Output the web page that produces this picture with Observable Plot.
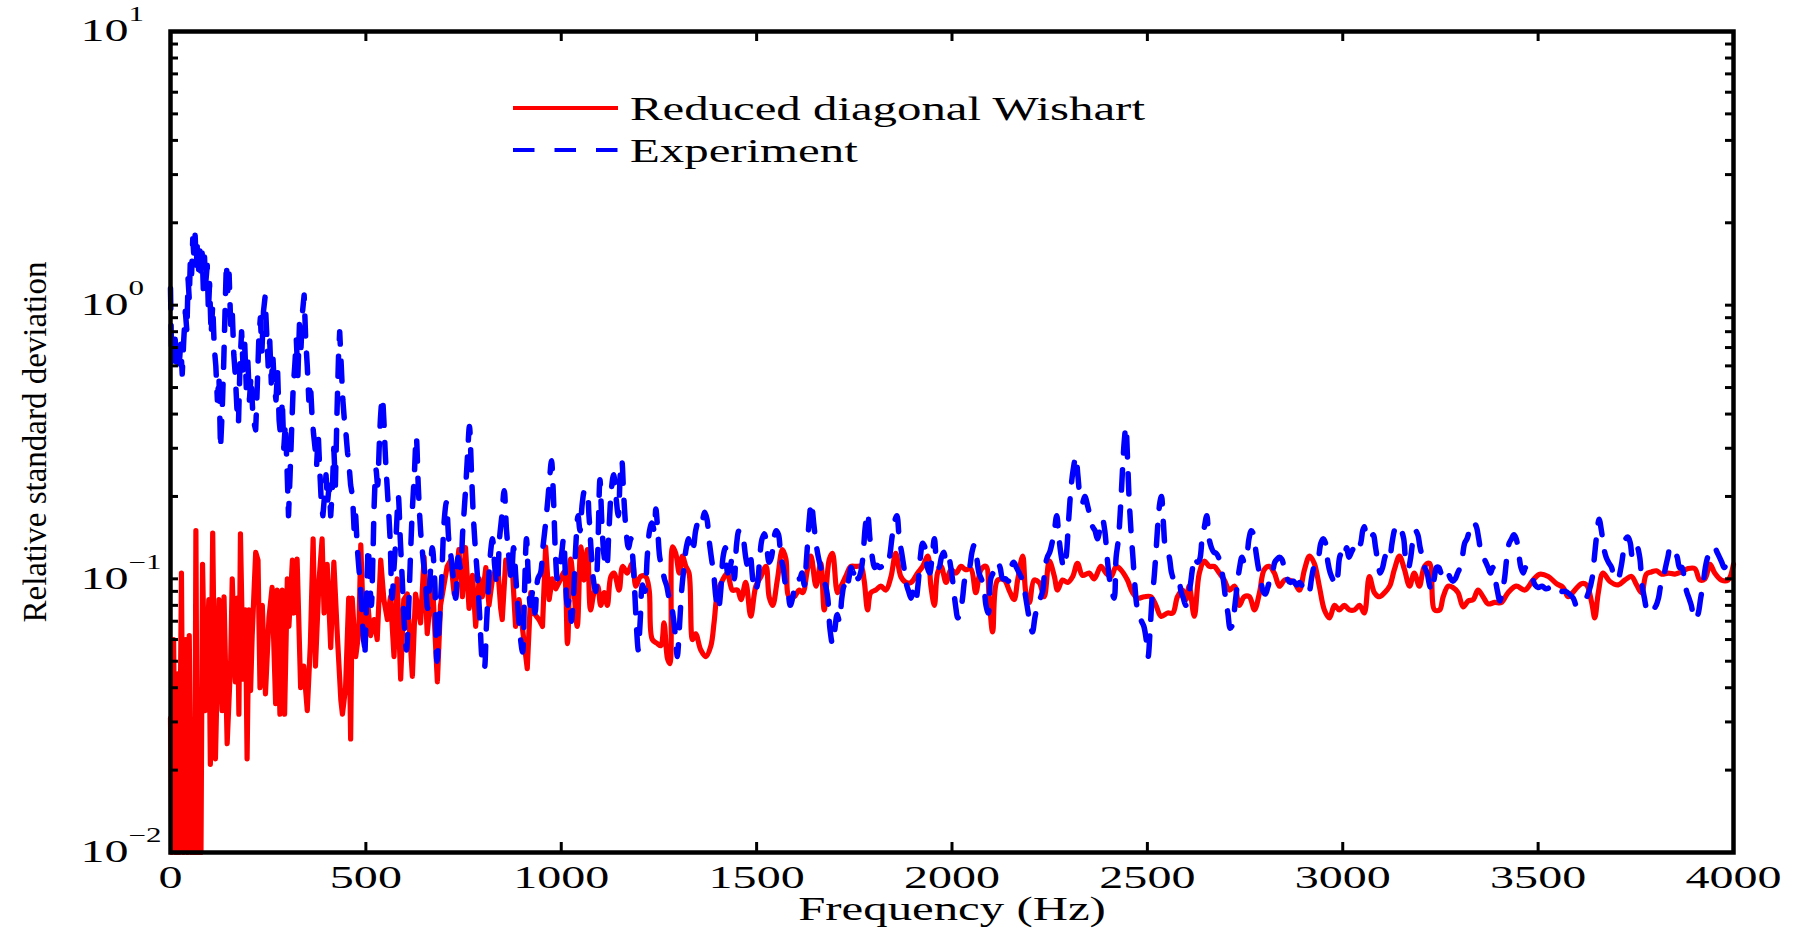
<!DOCTYPE html>
<html><head><meta charset="utf-8">
<script src="https://cdn.jsdelivr.net/npm/d3@7"></script>
<script src="https://cdn.jsdelivr.net/npm/@observablehq/plot@0.6"></script>
<style>
html,body{margin:0;padding:0;background:#fff;}
#wrap{position:relative;width:1801px;height:928px;overflow:hidden;background:#fff;}
#wrap svg{position:absolute;left:0;top:0;}
</style></head><body><div id="wrap"></div>
<script>
// ---------- data (frequency Hz, relative standard deviation) ----------
const wishartSeries = [[0,0.031],[3,0.005],[8,0.06],[13,0.005],[18,0.045],[22,0.006],[28,0.105],[33,0.005],[38,0.06],[43,0.005],[48,0.062],[53,0.005],[58,0.03],[62,0.005],[65,0.15],[69,0.005],[74,0.02],[78,0.005],[82,0.113],[89,0.033],[98,0.084],[102,0.021],[108,0.147],[115,0.022],[124,0.084],[132,0.033],[137,0.086],[145,0.025],[154,0.05],[158,0.1],[166,0.042],[171,0.085],[175,0.032],[179,0.146],[186,0.043],[192,0.077],[196,0.022],[201,0.077],[205,0.039],[209,0.062],[218,0.125],[224,0.117],[229,0.04],[235,0.08],[243,0.038],[252,0.072],[260,0.093],[269,0.035],[273,0.091],[280,0.032],[286,0.091],[292,0.032],[299,0.1],[303,0.067],[312,0.117],[316,0.075],[324,0.118],[333,0.04],[341,0.048],[350,0.033],[358,0.058],[365,0.14],[371,0.048],[380,0.098],[388,0.14],[393,0.075],[401,0.113],[410,0.056],[418,0.115],[427,0.062],[436,0.036],[440,0.032],[448,0.04],[456,0.085],[461,0.026],[465,0.085],[474,0.052],[482,0.064],[487,0.133],[495,0.06],[504,0.084],[512,0.062],[521,0.071],[529,0.06],[538,0.117],[546,0.084],[555,0.071],[563,0.086],[572,0.052],[580,0.1],[589,0.043],[597,0.084],[606,0.088],[619,0.044],[627,0.088],[640,0.069],[649,0.12],[657,0.063],[670,0.1],[683,0.042],[691,0.08],[708,0.111],[717,0.117],[726,0.088],[738,0.128],[747,0.086],[755,0.13],[764,0.078],[773,0.103],[781,0.067],[790,0.1],[798,0.086],[807,0.11],[815,0.08],[824,0.1],[837,0.113],[845,0.078],[849,0.071],[858,0.117],[875,0.108],[883,0.067],[892,0.084],[913,0.047],[922,0.089],[930,0.075],[943,0.071],[952,0.067],[960,0.131],[969,0.084],[977,0.1],[986,0.092],[999,0.1],[1007,0.106],[1016,0.058],[1024,0.118],[1033,0.089],[1041,0.067],[1050,0.131],[1058,0.099],[1067,0.128],[1075,0.077],[1084,0.089],[1093,0.094],[1101,0.08],[1110,0.089],[1118,0.08],[1127,0.102],[1135,0.105],[1148,0.091],[1157,0.111],[1169,0.105],[1182,0.114],[1191,0.094],[1203,0.102],[1216,0.102],[1225,0.091],[1233,0.06],[1246,0.058],[1255,0.057],[1263,0.069],[1272,0.051],[1278,0.049],[1285,0.131],[1293,0.124],[1302,0.105],[1310,0.121],[1319,0.111],[1327,0.105],[1336,0.06],[1344,0.063],[1357,0.055],[1370,0.052],[1383,0.057],[1391,0.069],[1400,0.089],[1413,0.099],[1425,0.105],[1438,0.091],[1451,0.091],[1460,0.084],[1472,0.097],[1485,0.073],[1498,0.094],[1511,0.102],[1524,0.111],[1532,0.086],[1541,0.08],[1553,0.099],[1566,0.128],[1575,0.118],[1583,0.086],[1596,0.086],[1609,0.091],[1618,0.089],[1630,0.108],[1639,0.121],[1652,0.094],[1664,0.114],[1673,0.077],[1686,0.118],[1694,0.124],[1707,0.089],[1716,0.094],[1728,0.102],[1741,0.111],[1754,0.111],[1767,0.111],[1775,0.099],[1784,0.077],[1792,0.089],[1805,0.091],[1818,0.094],[1831,0.091],[1844,0.102],[1856,0.124],[1869,0.102],[1882,0.097],[1895,0.097],[1912,0.105],[1925,0.111],[1938,0.121],[1946,0.094],[1955,0.08],[1963,0.105],[1972,0.111],[1985,0.097],[1997,0.108],[2010,0.105],[2023,0.111],[2035,0.108],[2048,0.109],[2061,0.089],[2074,0.108],[2087,0.111],[2095,0.086],[2104,0.064],[2117,0.099],[2134,0.099],[2146,0.091],[2159,0.084],[2168,0.099],[2181,0.121],[2189,0.089],[2198,0.082],[2210,0.099],[2223,0.097],[2236,0.086],[2249,0.116],[2262,0.102],[2270,0.091],[2283,0.099],[2296,0.097],[2309,0.102],[2321,0.114],[2334,0.103],[2351,0.105],[2364,0.1],[2381,0.111],[2394,0.105],[2407,0.102],[2420,0.111],[2432,0.108],[2449,0.099],[2462,0.089],[2475,0.085],[2492,0.086],[2509,0.086],[2522,0.08],[2535,0.073],[2552,0.075],[2565,0.075],[2577,0.086],[2590,0.091],[2599,0.084],[2607,0.094],[2620,0.073],[2633,0.105],[2646,0.116],[2659,0.111],[2671,0.111],[2684,0.105],[2697,0.099],[2710,0.091],[2723,0.094],[2735,0.08],[2748,0.086],[2761,0.086],[2774,0.077],[2787,0.089],[2799,0.108],[2812,0.111],[2825,0.105],[2838,0.094],[2851,0.099],[2863,0.099],[2876,0.097],[2889,0.091],[2902,0.108],[2915,0.121],[2927,0.114],[2940,0.094],[2953,0.077],[2966,0.072],[2979,0.08],[2991,0.077],[3004,0.08],[3017,0.077],[3030,0.077],[3043,0.08],[3055,0.075],[3068,0.102],[3081,0.089],[3094,0.086],[3107,0.089],[3120,0.094],[3132,0.108],[3145,0.121],[3158,0.108],[3171,0.094],[3183,0.105],[3196,0.094],[3209,0.111],[3222,0.114],[3235,0.077],[3248,0.077],[3257,0.086],[3270,0.094],[3282,0.093],[3295,0.089],[3308,0.079],[3321,0.083],[3334,0.084],[3346,0.091],[3359,0.086],[3372,0.081],[3389,0.082],[3406,0.082],[3423,0.089],[3444,0.094],[3466,0.091],[3487,0.099],[3504,0.104],[3526,0.102],[3547,0.096],[3564,0.093],[3577,0.086],[3594,0.091],[3611,0.096],[3624,0.095],[3637,0.082],[3645,0.072],[3654,0.089],[3666,0.105],[3683,0.098],[3705,0.095],[3722,0.099],[3739,0.102],[3752,0.095],[3765,0.089],[3777,0.104],[3790,0.106],[3803,0.107],[3816,0.104],[3833,0.105],[3850,0.104],[3867,0.106],[3884,0.109],[3901,0.109],[3914,0.099],[3927,0.1],[3940,0.113],[3952,0.105],[3969,0.099],[3986,0.099],[4000,0.113]];

const experimentSeries = [[0,1.15],[3,0.62],[6,0.8],[9,0.6],[12,0.75],[15,0.62],[19,0.7],[22,0.6],[26,0.72],[30,0.56],[34,0.75],[38,0.95],[42,0.8],[45,1.25],[48,1.05],[51,1.5],[54,1.3],[57,1.75],[60,1.5],[63,1.8],[66,1.4],[69,1.7],[72,1.35],[75,1.6],[78,1.25],[81,1.55],[84,1.15],[87,1.5],[90,1.2],[94,1.4],[97,0.95],[100,1.2],[104,0.78],[108,1.0],[112,0.7],[116,0.6],[120,0.45],[124,0.55],[128,0.3],[132,0.4],[136,0.6],[140,1.0],[143,1.42],[147,1.1],[150,1.3],[154,0.85],[158,0.95],[162,0.66],[166,0.55],[170,0.42],[174,0.37],[178,0.62],[182,0.8],[186,0.58],[190,0.72],[194,0.5],[198,0.62],[202,0.45],[206,0.55],[210,0.42],[214,0.37],[218,0.35],[222,0.5],[226,0.75],[230,0.9],[234,0.68],[238,0.95],[242,1.07],[246,0.8],[250,0.6],[254,0.74],[258,0.52],[262,0.65],[266,0.5],[270,0.45],[274,0.58],[278,0.38],[282,0.33],[286,0.45],[290,0.3],[294,0.37],[298,0.26],[302,0.17],[306,0.24],[310,0.35],[314,0.5],[318,0.6],[322,0.75],[326,0.55],[330,0.85],[334,0.7],[338,0.95],[342,1.09],[346,0.75],[350,0.6],[354,0.45],[358,0.52],[362,0.4],[366,0.34],[370,0.3],[374,0.26],[378,0.34],[382,0.25],[386,0.19],[390,0.17],[394,0.2],[398,0.24],[402,0.19],[406,0.22],[410,0.17],[414,0.21],[418,0.3],[422,0.22],[426,0.4],[430,0.65],[433,0.8],[437,0.6],[441,0.45],[445,0.38],[449,0.34],[453,0.29],[457,0.26],[461,0.22],[466,0.2],[470,0.15],[474,0.17],[478,0.13],[482,0.11],[486,0.095],[490,0.075],[494,0.06],[498,0.055],[502,0.085],[506,0.13],[510,0.1],[514,0.08],[518,0.12],[522,0.2],[526,0.25],[530,0.22],[534,0.3],[538,0.4],[542,0.46],[546,0.38],[550,0.28],[556,0.2],[562,0.14],[567,0.085],[572,0.11],[578,0.15],[583,0.2],[588,0.14],[593,0.1],[598,0.07],[604,0.055],[609,0.075],[614,0.12],[619,0.18],[624,0.24],[629,0.33],[634,0.22],[640,0.15],[646,0.12],[652,0.1],[658,0.078],[664,0.1],[670,0.13],[676,0.1],[682,0.05],[688,0.07],[694,0.1],[700,0.16],[706,0.19],[712,0.14],[718,0.12],[724,0.1],[730,0.085],[736,0.12],[742,0.11],[748,0.15],[754,0.2],[760,0.28],[765,0.36],[770,0.25],[775,0.17],[780,0.13],[786,0.1],[792,0.07],[798,0.05],[803,0.047],[808,0.065],[813,0.09],[818,0.12],[824,0.14],[830,0.11],[836,0.095],[842,0.14],[848,0.17],[854,0.21],[860,0.15],[866,0.12],[872,0.1],[878,0.13],[884,0.1],[890,0.075],[896,0.06],[901,0.054],[906,0.09],[911,0.14],[916,0.1],[921,0.08],[927,0.09],[933,0.075],[940,0.1],[947,0.105],[953,0.13],[959,0.155],[965,0.19],[970,0.23],[975,0.27],[980,0.2],[985,0.125],[990,0.1],[995,0.11],[1000,0.12],[1006,0.14],[1011,0.1],[1016,0.08],[1021,0.085],[1026,0.07],[1032,0.09],[1037,0.13],[1043,0.17],[1048,0.15],[1054,0.19],[1060,0.21],[1065,0.21],[1071,0.17],[1076,0.13],[1082,0.1],[1088,0.09],[1093,0.12],[1099,0.23],[1104,0.16],[1110,0.12],[1116,0.11],[1122,0.15],[1128,0.21],[1134,0.24],[1140,0.2],[1146,0.17],[1151,0.24],[1155,0.27],[1160,0.2],[1166,0.15],[1172,0.13],[1178,0.14],[1183,0.12],[1188,0.09],[1193,0.065],[1197,0.055],[1202,0.07],[1208,0.095],[1214,0.09],[1220,0.12],[1226,0.15],[1232,0.16],[1238,0.15],[1242,0.18],[1247,0.15],[1252,0.12],[1258,0.11],[1264,0.1],[1270,0.094],[1276,0.085],[1282,0.08],[1288,0.07],[1293,0.06],[1297,0.052],[1302,0.065],[1308,0.09],[1314,0.11],[1320,0.13],[1326,0.14],[1332,0.125],[1338,0.13],[1344,0.15],[1350,0.16],[1356,0.155],[1362,0.165],[1367,0.175],[1373,0.165],[1378,0.14],[1384,0.12],[1390,0.105],[1396,0.085],[1402,0.077],[1408,0.09],[1414,0.12],[1420,0.13],[1426,0.105],[1432,0.11],[1438,0.12],[1443,0.1],[1449,0.135],[1455,0.15],[1460,0.15],[1466,0.14],[1472,0.12],[1478,0.11],[1484,0.12],[1490,0.1],[1496,0.09],[1502,0.095],[1508,0.12],[1514,0.14],[1520,0.146],[1526,0.13],[1532,0.115],[1538,0.12],[1544,0.14],[1550,0.15],[1556,0.145],[1562,0.12],[1568,0.11],[1574,0.095],[1580,0.09],[1586,0.08],[1592,0.085],[1598,0.095],[1604,0.1],[1610,0.1],[1616,0.105],[1622,0.095],[1628,0.12],[1634,0.16],[1640,0.19],[1646,0.16],[1652,0.135],[1658,0.12],[1664,0.11],[1670,0.1],[1676,0.095],[1682,0.085],[1688,0.065],[1694,0.058],[1700,0.065],[1706,0.074],[1712,0.07],[1718,0.085],[1724,0.094],[1730,0.09],[1736,0.1],[1742,0.11],[1748,0.105],[1754,0.11],[1760,0.1],[1766,0.105],[1772,0.12],[1778,0.155],[1784,0.174],[1790,0.14],[1796,0.12],[1802,0.11],[1808,0.112],[1815,0.11],[1822,0.111],[1828,0.11],[1834,0.112],[1840,0.12],[1846,0.14],[1852,0.16],[1859,0.17],[1865,0.14],[1871,0.125],[1877,0.11],[1883,0.096],[1889,0.09],[1895,0.085],[1901,0.09],[1907,0.083],[1913,0.095],[1919,0.12],[1925,0.135],[1931,0.13],[1937,0.11],[1943,0.105],[1949,0.12],[1955,0.14],[1961,0.115],[1967,0.11],[1973,0.12],[1979,0.125],[1985,0.115],[1991,0.12],[1997,0.11],[2003,0.095],[2009,0.08],[2015,0.072],[2021,0.075],[2027,0.085],[2033,0.1],[2039,0.105],[2045,0.11],[2051,0.125],[2057,0.133],[2063,0.12],[2069,0.105],[2075,0.1],[2081,0.095],[2087,0.08],[2093,0.075],[2099,0.1],[2105,0.105],[2111,0.11],[2117,0.115],[2123,0.11],[2130,0.1],[2137,0.1],[2144,0.098],[2151,0.11],[2158,0.115],[2165,0.11],[2172,0.105],[2179,0.1],[2186,0.09],[2192,0.08],[2199,0.07],[2206,0.064],[2212,0.072],[2219,0.08],[2226,0.085],[2232,0.09],[2238,0.11],[2244,0.12],[2250,0.125],[2256,0.135],[2262,0.15],[2268,0.17],[2274,0.14],[2280,0.12],[2286,0.11],[2292,0.12],[2298,0.16],[2304,0.21],[2310,0.25],[2317,0.28],[2322,0.24],[2328,0.2],[2334,0.19],[2340,0.2],[2347,0.185],[2353,0.17],[2360,0.155],[2366,0.15],[2372,0.14],[2378,0.15],[2385,0.165],[2391,0.15],[2397,0.12],[2403,0.1],[2409,0.09],[2415,0.085],[2420,0.12],[2426,0.14],[2432,0.19],[2437,0.26],[2441,0.32],[2445,0.36],[2449,0.28],[2453,0.2],[2458,0.15],[2463,0.12],[2468,0.095],[2473,0.08],[2479,0.075],[2485,0.07],[2491,0.067],[2497,0.06],[2502,0.052],[2507,0.065],[2512,0.085],[2517,0.1],[2522,0.125],[2527,0.16],[2532,0.19],[2536,0.2],[2541,0.16],[2546,0.13],[2551,0.125],[2556,0.12],[2562,0.105],[2568,0.1],[2574,0.102],[2580,0.1],[2586,0.09],[2592,0.085],[2598,0.08],[2604,0.085],[2610,0.095],[2616,0.11],[2622,0.12],[2628,0.115],[2634,0.118],[2640,0.14],[2646,0.155],[2652,0.17],[2658,0.14],[2664,0.13],[2670,0.125],[2676,0.124],[2682,0.12],[2688,0.11],[2694,0.1],[2700,0.085],[2706,0.075],[2712,0.066],[2718,0.068],[2724,0.08],[2730,0.095],[2736,0.11],[2742,0.12],[2748,0.115],[2754,0.12],[2760,0.14],[2766,0.15],[2772,0.145],[2778,0.125],[2784,0.11],[2790,0.1],[2796,0.09],[2802,0.088],[2808,0.093],[2814,0.1],[2820,0.105],[2826,0.115],[2832,0.118],[2838,0.12],[2844,0.118],[2850,0.11],[2858,0.1],[2866,0.097],[2874,0.098],[2882,0.095],[2890,0.097],[2898,0.093],[2906,0.088],[2914,0.09],[2920,0.1],[2926,0.11],[2932,0.113],[2938,0.12],[2944,0.135],[2950,0.14],[2956,0.135],[2962,0.115],[2968,0.105],[2974,0.1],[2980,0.095],[2986,0.1],[2992,0.12],[2998,0.125],[3004,0.12],[3010,0.13],[3016,0.12],[3022,0.125],[3028,0.13],[3034,0.135],[3040,0.13],[3046,0.135],[3051,0.15],[3055,0.155],[3060,0.145],[3066,0.14],[3072,0.14],[3078,0.145],[3084,0.13],[3090,0.115],[3096,0.105],[3102,0.11],[3108,0.12],[3114,0.125],[3120,0.12],[3126,0.135],[3132,0.15],[3138,0.157],[3144,0.155],[3150,0.15],[3156,0.14],[3162,0.115],[3168,0.11],[3174,0.12],[3180,0.14],[3186,0.15],[3192,0.145],[3198,0.13],[3204,0.12],[3210,0.11],[3216,0.105],[3222,0.095],[3228,0.09],[3234,0.1],[3240,0.11],[3246,0.11],[3252,0.105],[3258,0.108],[3264,0.11],[3270,0.105],[3276,0.1],[3282,0.098],[3288,0.1],[3294,0.105],[3300,0.11],[3306,0.12],[3312,0.135],[3318,0.14],[3324,0.15],[3330,0.16],[3336,0.16],[3342,0.155],[3348,0.14],[3354,0.125],[3360,0.12],[3366,0.115],[3372,0.11],[3378,0.105],[3384,0.11],[3390,0.1],[3396,0.09],[3402,0.083],[3408,0.09],[3414,0.1],[3420,0.12],[3426,0.135],[3432,0.14],[3438,0.145],[3444,0.14],[3450,0.125],[3456,0.11],[3462,0.105],[3468,0.11],[3474,0.11],[3480,0.105],[3486,0.1],[3492,0.095],[3500,0.093],[3510,0.094],[3520,0.092],[3530,0.093],[3540,0.095],[3550,0.092],[3560,0.09],[3570,0.09],[3580,0.088],[3590,0.085],[3598,0.08],[3606,0.082],[3614,0.085],[3622,0.085],[3630,0.09],[3638,0.1],[3644,0.12],[3650,0.145],[3656,0.165],[3662,0.15],[3668,0.13],[3674,0.12],[3680,0.115],[3688,0.11],[3696,0.1],[3704,0.1],[3712,0.11],[3718,0.125],[3724,0.14],[3730,0.142],[3736,0.135],[3742,0.12],[3748,0.12],[3754,0.13],[3760,0.12],[3766,0.095],[3772,0.085],[3778,0.078],[3784,0.077],[3790,0.08],[3796,0.078],[3802,0.08],[3808,0.085],[3814,0.095],[3820,0.1],[3826,0.11],[3832,0.12],[3838,0.13],[3844,0.13],[3850,0.125],[3856,0.12],[3862,0.11],[3868,0.11],[3874,0.1],[3880,0.09],[3886,0.085],[3892,0.08],[3898,0.073],[3904,0.071],[3910,0.075],[3916,0.085],[3922,0.095],[3928,0.11],[3934,0.12],[3940,0.125],[3946,0.13],[3952,0.13],[3958,0.125],[3964,0.12],[3970,0.115],[3976,0.11],[3982,0.112],[3988,0.11],[3994,0.108],[4000,0.106]];

const seriesNames = ["Reduced diagonal Wishart", "Experiment"];
const seriesColors = ["#ff0000", "#0000ff"];
const xTickValues = [0, 500, 1000, 1500, 2000, 2500, 3000, 3500, 4000];
const xTickLabels = ["0", "500", "1000", "1500", "2000", "2500", "3000", "3500", "4000"];
const yMajorTicks = [0.01, 0.1, 1, 10];
const yTickLabels = ["10^-2", "10^-1", "10^0", "10^1"];
const yMinorTicks = [0.02,0.03,0.04,0.05,0.06,0.07,0.08,0.09,0.2,0.3,0.4,0.5,0.6,0.7,0.8,0.9,2,3,4,5,6,7,8,9];
const xTitle = "Frequency (Hz)";
const yTitle = "Relative standard deviation";

// ---------- layout ----------
const W = 1801, H = 928, mL = 170, mR = 68, mT = 31, mB = 76;
const fw = W - mL - mR, fh = H - mT - mB;
const FONT = "'Liberation Serif', 'Times New Roman', serif";

const red = wishartSeries.map(([f, v]) => ({f, v}));
const blue = experimentSeries.map(([f, v]) => ({f, v}));
const yAllTicks = yMajorTicks.concat(yMinorTicks);

const chart = Plot.plot({
  width: W, height: H,
  marginLeft: mL, marginRight: mR, marginTop: mT, marginBottom: mB,
  style: {fontFamily: FONT, fontSize: "31px", background: "white", color: "black", overflow: "visible"},
  x: {domain: [0, 4000], ticks: xTickValues, tickFormat: d => xTickLabels[xTickValues.indexOf(d)], tickSize: 0, tickPadding: 13, label: null},
  y: {type: "log", domain: [0.01, 10], clamp: true, ticks: yMajorTicks, tickFormat: d => yTickLabels[yMajorTicks.indexOf(d)], tickSize: 0, tickPadding: 90, label: null},
  marks: [
    Plot.line(red.filter(d => d.f <= 999), {x: "f", y: "v", stroke: seriesColors[0], strokeWidth: 5.2, strokeLinejoin: "round"}),
    Plot.line(red.filter(d => d.f >= 999), {x: "f", y: "v", stroke: seriesColors[0], strokeWidth: 5.2, strokeLinejoin: "round", curve: "catmull-rom"}),
    Plot.line(blue.filter(d => d.f <= 498), {x: "f", y: "v", stroke: seriesColors[1], strokeWidth: 5.5, strokeDasharray: "20,17", strokeLinejoin: "round"}),
    Plot.line(blue.filter(d => d.f >= 498), {x: "f", y: "v", stroke: seriesColors[1], strokeWidth: 5.5, strokeDasharray: "20,17", strokeLinejoin: "round", curve: "catmull-rom"}),
    Plot.ruleX(xTickValues, {x: d => d, insetTop: fh - 10, stroke: "black", strokeWidth: 3}),
    Plot.ruleX(xTickValues, {x: d => d, insetBottom: fh - 10, stroke: "black", strokeWidth: 3}),
    Plot.ruleY(yAllTicks, {y: d => d, insetRight: fw - 8, stroke: "black", strokeWidth: 3}),
    Plot.ruleY(yAllTicks, {y: d => d, insetLeft: fw - 8, stroke: "black", strokeWidth: 3}),
    Plot.frame({stroke: "black", strokeWidth: 4.5}),
    Plot.text([xTitle], {text: d => d, frameAnchor: "bottom", dy: 57, fontSize: 33, lineAnchor: "middle", fill: "black"}),
    Plot.text([yTitle], {text: d => d, frameAnchor: "left", dx: -135, rotate: -90, fontSize: 33, lineAnchor: "middle", textAnchor: "middle", fill: "black"})
  ]
});

const root = d3.select(chart);

// superscript powers of ten on y tick labels
root.selectAll("text").each(function () {
  const s = this.textContent;
  if (/^10\^/.test(s)) {
    const e = s.slice(3).replace("-", "\u2212");
    const t = d3.select(this);
    t.text(null).attr("text-anchor", "start");
    t.append("tspan").text("10");
    t.append("tspan").attr("dy", -20).attr("font-size", 20).text(e);
  }
});

// horizontally widened lettering as in the reference figure
function stretch(node, sx) {
  const x = parseFloat(node.getAttribute("x")) || 0;
  const t = node.getAttribute("transform") || "";
  node.setAttribute("transform", `${t} translate(${x},0) scale(${sx},1) translate(${-x},0)`);
}
root.selectAll("text").each(function () {
  const s = this.textContent;
  if (s === yTitle) return;
  if (s === xTitle) stretch(this, 1.48);
  else stretch(this, 1.55);
});

document.getElementById("wrap").appendChild(chart);

// legend (inside the frame, upper left)
const leg = d3.select("#wrap").append("svg").attr("width", W).attr("height", H)
  .style("pointer-events", "none");
const legRows = [
  {name: seriesNames[0], color: seriesColors[0], dash: null, y: 108},
  {name: seriesNames[1], color: seriesColors[1], dash: "21.5,20", y: 150}
];
legRows.forEach(r => {
  leg.append("line").attr("x1", 513).attr("x2", 618).attr("y1", r.y).attr("y2", r.y)
    .attr("stroke", r.color).attr("stroke-width", 4).attr("stroke-dasharray", r.dash);
  leg.append("text").attr("transform", `translate(630,${r.y + 12}) scale(1.48,1)`)
    .attr("font-family", FONT).attr("font-size", 33).attr("fill", "black").text(r.name);
});
</script>
</body></html>
